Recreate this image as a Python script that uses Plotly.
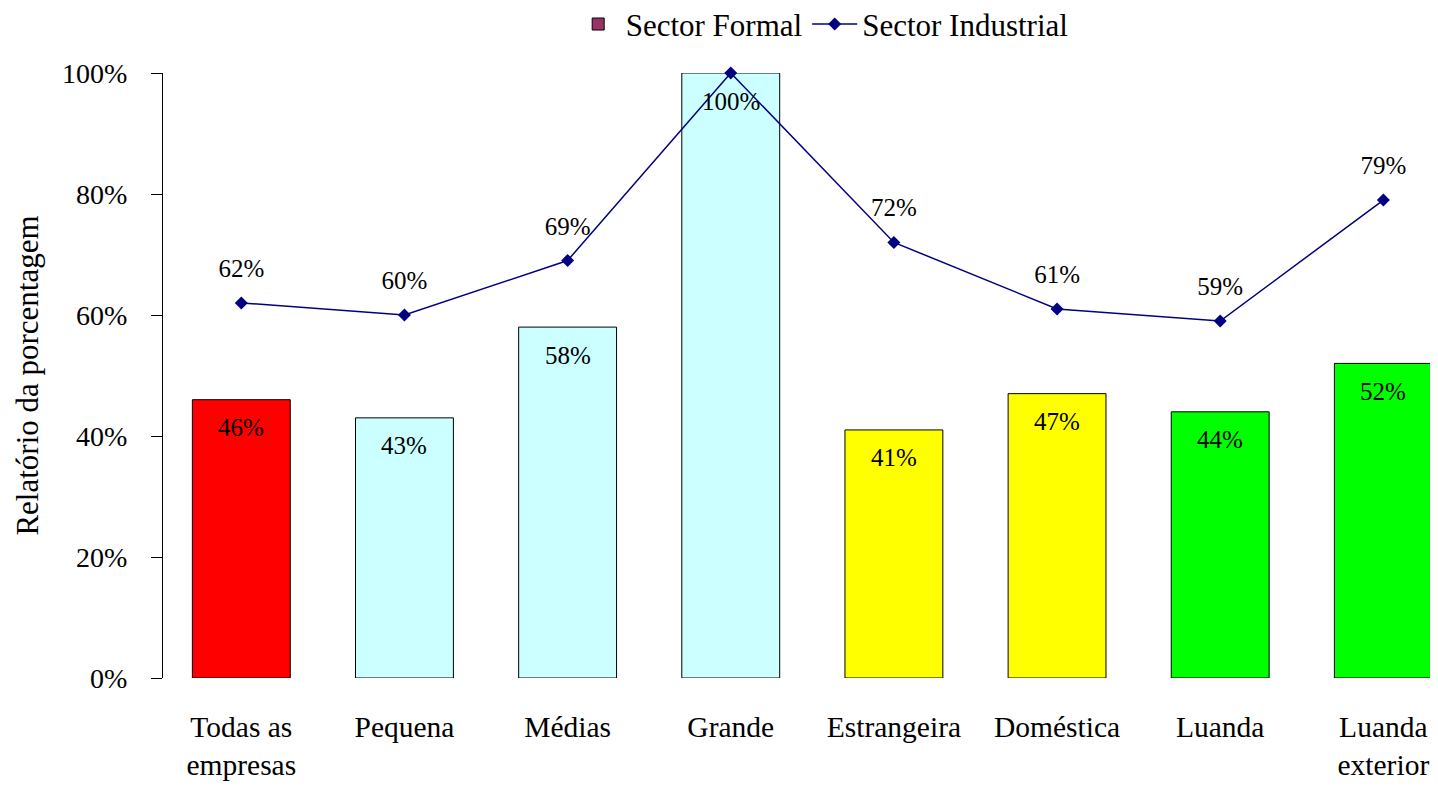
import plotly.graph_objects as go

categories = ["Todas as<br>empresas", "Pequena", "Médias", "Grande",
              "Estrangeira", "Doméstica", "Luanda", "Luanda<br>exterior"]
formal = [0.46, 0.43, 0.58, 1.00, 0.41, 0.47, 0.44, 0.52]
industrial = [0.62, 0.60, 0.69, 1.00, 0.72, 0.61, 0.59, 0.79]
bar_colors = ["#FF0000", "#CCFFFF", "#CCFFFF", "#CCFFFF",
              "#FFFF00", "#FFFF00", "#00FF00", "#00FF00"]

FONT = "Liberation Serif, Times New Roman, serif"
NAVY = "#000080"
LABEL_SIZE = 25

x = list(range(len(categories)))

fig = go.Figure()
# legend-only swatch in Excel's default maroon; the real bars are multicoloured
fig.add_trace(go.Bar(
    x=[None], y=[None], name="Sector Formal",
    marker=dict(color="#993366", line=dict(color="black", width=1)),
))
fig.add_trace(go.Bar(
    x=x, y=formal, name="Sector Formal", width=0.6, showlegend=False,
    marker=dict(color=bar_colors, line=dict(color="black", width=1)),
    hoverinfo="skip",
))
fig.add_trace(go.Scatter(
    x=x, y=industrial, name="Sector Industrial", mode="lines+markers",
    line=dict(color=NAVY, width=1.5),
    marker=dict(symbol="diamond", size=10, color=NAVY),
    cliponaxis=False, hoverinfo="skip",
))
# line labels as a text trace (an invisible big marker pushes the text up),
# so the legend box hides the clipped "100%" like in the original
fig.add_trace(go.Scatter(
    x=x, y=industrial, mode="markers+text", showlegend=False,
    text=[f"{v:.0%}" for v in industrial], textposition="top center",
    textfont=dict(family=FONT, size=LABEL_SIZE, color="black"),
    marker=dict(size=30, color="rgba(0,0,0,0)"),
    cliponaxis=False, hoverinfo="skip",
))

# bar value labels just inside the top of each bar
for xi, v in zip(x, formal):
    fig.add_annotation(x=xi, y=v, text=f"{v:.0%}", showarrow=False,
                       yshift=-28, font=dict(family=FONT, size=LABEL_SIZE, color="black"))

# margins allow for the 8px page margin around the plot div
fig.update_layout(
    width=1438, height=789,
    margin=dict(l=155, r=8, t=65, b=119, autoexpand=False),
    paper_bgcolor="white", plot_bgcolor="white",
    font=dict(family=FONT, size=30, color="black"),
    barmode="overlay",
    showlegend=True,
    legend=dict(orientation="h", x=0.517, xanchor="center", y=1.125, yanchor="top",
                bgcolor="white", font=dict(size=31), traceorder="normal",
                itemwidth=45),
    xaxis=dict(tickmode="array", tickvals=x, ticktext=categories,
               range=[-0.48, 7.335], showgrid=False, zeroline=False,
               showline=False, ticks="", ticklabelstandoff=28,
               tickfont=dict(size=29.5)),
    yaxis=dict(range=[0, 1], tickformat=".0%", dtick=0.2, showgrid=False,
               zeroline=False, showline=True, linecolor="black", linewidth=1,
               ticks="outside", ticklen=11, tickcolor="black",
               ticklabelstandoff=18, tickfont=dict(size=28),
               title=dict(text="Relatório da porcentagem", font=dict(size=31),
                          standoff=14)),
)

fig.write_html("out.html")
